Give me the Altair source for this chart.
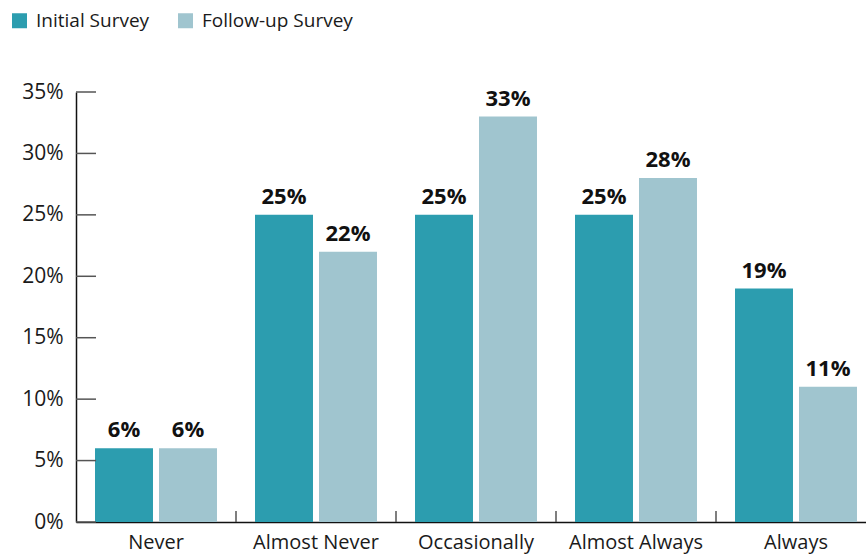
import altair as alt
import pandas as pd

categories = ["Never", "Almost Never", "Occasionally", "Almost Always", "Always"]
series = ["Initial Survey", "Follow-up Survey"]
initial = [6, 25, 25, 25, 19]
followup = [6, 22, 33, 28, 11]
y_ticks = [0, 5, 10, 15, 20, 25, 30, 35]
colors = ["#2C9DAF", "#A0C5CF"]

rows = []
for c, a, b in zip(categories, initial, followup):
    rows.append({"cat": c, "series": series[0], "value": a, "label": f"{a}%"})
    rows.append({"cat": c, "series": series[1], "value": b, "label": f"{b}%"})
df = pd.DataFrame(rows)
ytick_df = pd.DataFrame({"v": y_ticks})
xtick_df = pd.DataFrame({"cat": categories[1:]})

FONT = "Open Sans"
W, H = 790, 430

xscale = alt.Scale(domain=categories, range=[0, 800], paddingInner=0, paddingOuter=0)
yscale = alt.Scale(domain=[0, 35], nice=False, zero=True)
offscale = alt.Scale(domain=series, paddingInner=0.094, paddingOuter=0.297)

x_enc = alt.X("cat:N", scale=xscale, sort=categories,
              axis=alt.Axis(title=None, labelAngle=0, labelFont=FONT, labelFontSize=20,
                            labelColor="#1a1a1a", ticks=False, domainColor="#111111",
                            domainWidth=1.5, labelPadding=10))
y_enc = alt.Y("value:Q", scale=yscale,
              axis=alt.Axis(title=None, values=y_ticks, labelExpr="datum.value + '%'",
                            ticks=False, grid=False, domainColor="#111111", domainWidth=1.5,
                            labelFont=FONT, labelFontSize=21, labelColor="#1a1a1a",
                            labelPadding=13))

bars = alt.Chart(df).mark_bar().encode(
    x=x_enc,
    xOffset=alt.XOffset("series:N", scale=offscale, sort=series),
    y=y_enc,
    color=alt.Color("series:N", scale=alt.Scale(domain=series, range=colors),
                    legend=alt.Legend(orient="none", legendX=-66, legendY=-81,
                                      direction="horizontal", title=None,
                                      symbolType="square", symbolSize=225,
                                      symbolStrokeWidth=0, symbolOpacity=1,
                                      labelFont=FONT, labelFontSize=19,
                                      labelColor="#1a1a1a", columnPadding=26,
                                      labelOffset=7, padding=0)),
)

texts = alt.Chart(df).mark_text(font=FONT, fontSize=22, fontWeight="bold",
                                color="#111111", dy=-11, baseline="alphabetic").encode(
    x=alt.X("cat:N", scale=xscale, sort=categories),
    xOffset=alt.XOffset("series:N", scale=offscale, sort=series),
    y=alt.Y("value:Q", scale=yscale),
    text="label:N",
)

yticks = alt.Chart(ytick_df).mark_rule(color="#555555", strokeWidth=1.5).encode(
    x=alt.value(0), x2=alt.value(20),
    y=alt.Y("v:Q", scale=yscale),
)

xticks = alt.Chart(xtick_df).mark_rule(color="#555555", strokeWidth=1.5).encode(
    x=alt.X("cat:N", scale=xscale, sort=categories, bandPosition=0),
    y=alt.value(H - 11), y2=alt.value(H),
)

chart = alt.layer(bars, yticks, xticks, texts).properties(
    width=W, height=H,
    background="white",
    autosize=alt.AutoSizeParams(type="none"),
    padding={"left": 76, "top": 92, "right": 0, "bottom": 32},
).configure_view(stroke=None)

chart.save("out.html", embed_options={"renderer": "svg", "actions": False})
